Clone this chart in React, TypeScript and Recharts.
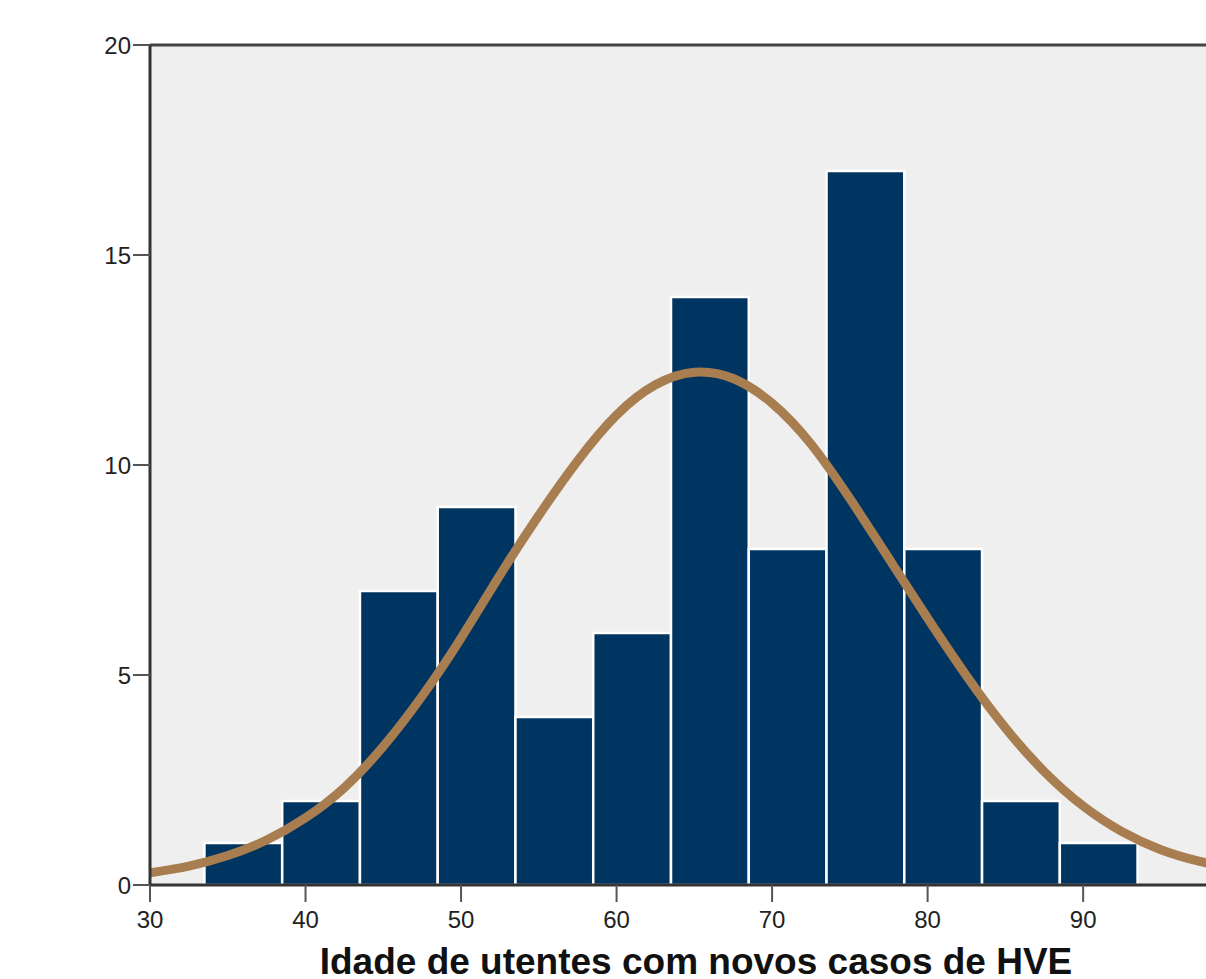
import React from 'react';
import {
  ComposedChart,
  XAxis,
  YAxis,
  Line,
  ReferenceArea,
  ReferenceLine,
  CartesianGrid,
} from 'recharts';

// Histogram bins (age) and counts
const binStarts = [33.5, 38.5, 43.5, 48.5, 53.5, 58.5, 63.5, 68.5, 73.5, 78.5, 83.5, 88.5];
const binEnds = [38.5, 43.5, 48.5, 53.5, 58.5, 63.5, 68.5, 73.5, 78.5, 83.5, 88.5, 93.5];
const counts = [1, 2, 7, 9, 4, 6, 14, 8, 17, 8, 2, 1];

// Normal curve
const curveAges = [30, 32.5, 35, 37.5, 40, 42.5, 45, 47.5, 50, 52.5, 55, 57.5, 60, 62.5, 65, 67.5, 70, 72.5, 75, 77.5, 80, 82.5, 85, 87.5, 90, 92.5, 95, 97.5, 100];
const curveFreq = [0.29, 0.45, 0.7, 1.07, 1.6, 2.32, 3.3, 4.5, 5.88, 7.38, 8.8, 10.1, 11.19, 11.91, 12.21, 12.06, 11.47, 10.5, 9.2, 7.78, 6.35, 4.98, 3.74, 2.7, 1.88, 1.27, 0.84, 0.56, 0.36];

const xTicks = [30, 40, 50, 60, 70, 80, 90];
const yTicks = [0, 5, 10, 15, 20];
const xTitle = 'Idade de utentes com novos casos de HVE';

const curveData = curveAges.map((age, i) => ({ age, freq: curveFreq[i] }));

const FONT = '"Liberation Sans", Arial, sans-serif';

export default function App() {
  return (
    <div style={{ position: 'absolute', left: 0, top: 0, width: 1206, height: 979, overflow: 'hidden', background: '#ffffff' }}>
      <ComposedChart
        width={1220}
        height={979}
        data={curveData}
        margin={{ top: 45, right: 0, bottom: 0, left: 0 }}
      >
        <CartesianGrid fill="#efefef" horizontal={false} vertical={false} />
        <XAxis
          dataKey="age"
          type="number"
          domain={[30, 98.8]}
          ticks={xTicks}
          allowDataOverflow
          height={94}
          tickSize={17}
          tickMargin={9}
          axisLine={{ stroke: '#333333', strokeWidth: 3 }}
          tickLine={{ stroke: '#555555', strokeWidth: 2 }}
          tick={{ fill: '#222222', fontSize: 24, fontFamily: FONT }}
          label={{
            value: xTitle,
            position: 'insideBottom',
            offset: 5,
            dx: 11,
            fill: '#111111',
            fontSize: 37,
            fontWeight: 'bold',
            fontFamily: FONT,
          }}
        />
        <YAxis
          type="number"
          domain={[0, 20]}
          ticks={yTicks}
          width={150}
          tickSize={17}
          tickMargin={2}
          axisLine={{ stroke: '#333333', strokeWidth: 3 }}
          tickLine={{ stroke: '#555555', strokeWidth: 2 }}
          tick={{ fill: '#222222', fontSize: 24, fontFamily: FONT }}
        />
        {counts.map((c, i) => (
          <ReferenceArea
            key={i}
            x1={binStarts[i]}
            x2={binEnds[i]}
            y1={0}
            y2={c}
            fill="#003461"
            fillOpacity={1}
            stroke="#ffffff"
            strokeWidth={2.5}
            ifOverflow="visible"
          />
        ))}
        <ReferenceLine y={20} stroke="#444444" strokeWidth={3} />
        <Line
          dataKey="freq"
          type="natural"
          stroke="#a87d4f"
          strokeWidth={9}
          dot={false}
          activeDot={false}
          isAnimationActive={false}
        />
      </ComposedChart>
    </div>
  );
}
